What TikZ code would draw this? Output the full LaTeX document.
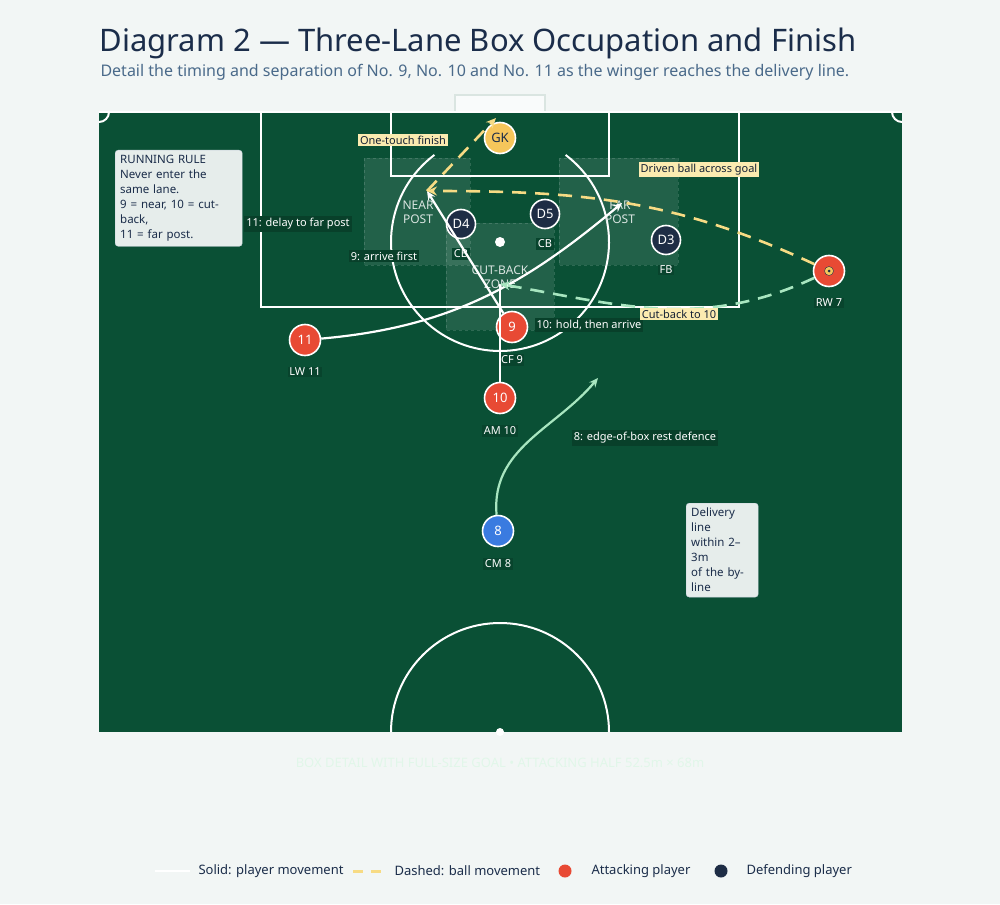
\documentclass[tikz,border=0pt]{standalone}
\usepackage{fontspec}
\setmainfont{Noto Sans}
\usetikzlibrary{arrows.meta}

\definecolor{bgcol}{HTML}{F2F6F5}
\definecolor{pitch}{HTML}{0A5035}
\definecolor{navy}{HTML}{1B2D4A}
\definecolor{slate}{HTML}{4A6A8A}
\definecolor{attack}{HTML}{E84A34}
\definecolor{defend}{HTML}{1E2D45}
\definecolor{keeper}{HTML}{F6C65B}
\definecolor{midblue}{HTML}{3A7BE0}
\definecolor{ballyel}{HTML}{F7DB84}
\definecolor{cutgreen}{HTML}{A8E6C0}
\definecolor{tagyel}{HTML}{FBEBB0}

\tikzset{
  player/.style={circle, draw=white, line width=1.6pt, minimum size=31pt, inner sep=0pt,
    font=\fontsize{13}{13}\selectfont\bfseries, text=white},
  att/.style={player, fill=attack},
  def/.style={player, fill=defend, minimum size=29pt},
  plabel/.style={font=\fontsize{11}{11}\selectfont\bfseries, text=white, fill=pitch!85!black, inner sep=1.5pt},
  note/.style={font=\fontsize{11}{11}\selectfont\bfseries, text=white, fill=pitch!80!black, inner sep=2pt},
  tag/.style={font=\fontsize{11}{11}\selectfont\bfseries, text=navy!70!black, fill=tagyel, inner sep=2pt},
  zone/.style={fill=white, fill opacity=0.1, draw=white, draw opacity=0.15, dashed},
  zonetxt/.style={font=\fontsize{12}{14}\selectfont\bfseries, text=white!85!pitch, align=center},
  run/.style={white, line width=2.2pt, -{Stealth[length=9pt,width=8pt]}},
  ball/.style={ballyel, line width=2.6pt, dash pattern=on 14pt off 9pt, -{Stealth[length=10pt,width=9pt]}},
  info/.style={draw=white!70!slate, fill=bgcol, fill opacity=0.95, text opacity=1, rounded corners=3pt,
    font=\fontsize{11.5}{15}\selectfont, text=navy, align=left, inner sep=5pt}
}

\begin{document}
\begin{tikzpicture}[x=1pt, y=-1pt]

% Background and titles
\fill[bgcol] (0,0) rectangle (1000,904);
\useasboundingbox (0,0) rectangle (1000,904);
\node[anchor=base west, text=navy, font=\fontsize{31}{31}\selectfont\bfseries] (title) at (96,52)
  {Diagram 2 — Three-Lane Box Occupation and Finish};
\node[anchor=base west, text=slate, font=\fontsize{16}{16}\selectfont] (subtitle) at (97,77)
  {Detail the timing and separation of No. 9, No. 10 and No. 11 as the winger reaches the delivery line.};

% Pitch
\fill[pitch] (99,112) rectangle (902,732);
\draw[white!85!pitch, line width=1.5pt, fill=white, fill opacity=0.6] (455,95) rectangle (545,112);
\draw[white, line width=2pt] (99,112) -- (902,112);
\draw[white, line width=2pt] (261,112) -- (261,307) -- (739,307) -- (739,112);
\draw[white, line width=2pt] (391,112) -- (391,176) -- (609,176) -- (609,112);
\draw[white, line width=2pt] (99,122) arc (90:0:10);
\draw[white, line width=2pt] (892,112) arc (180:90:10);
\draw[white, line width=2pt] (500,242) ++(233:109) arc (233:-53:109);
\draw[white, line width=2pt] (391,732) arc (180:360:109);
\fill[white] (500,242) circle (5);
\fill[white] (500,732) circle (4);

% Zones
\draw[zone] (364,158) rectangle (470,265);
\draw[zone] (559,158) rectangle (678,265);
\draw[zone] (446,223) rectangle (554,330);
\node[zonetxt] (nearlbl) at (418,212) {NEAR\\POST};
\node[zonetxt] (farlbl) at (620,212) {FAR\\POST};
\node[zonetxt] (cutlbl) at (500,277) {CUT-BACK\\ZONE};

% Target points
\coordinate (nearpost) at (427,191);
\coordinate (farpost) at (622,203);
\coordinate (cutback) at (500,284);
\coordinate (restdef) at (598,378);
\coordinate (goalmouth) at (496,118);

% Players
\node[player, fill=keeper, text=navy] (gk) at (500,138) {GK};
\node[def] (d4) at (461,224) {D4};
\node[def] (d5) at (545,214) {D5};
\node[def] (d3) at (666,240) {D3};
\node[att] (rw) at (829,271) {};
\fill[keeper] (rw) circle (4.5);
\draw[navy] (rw) circle (4.5);
\fill[navy] (rw) circle (1.5);
\node[att] (cf) at (512,327) {9};
\node[att] (am) at (500,398) {10};
\node[att] (lw) at (305,340) {11};
\node[player, fill=midblue] (cm) at (498,531) {8};

\node[plabel] at (461,254) {CB};
\node[plabel] at (545,244) {CB};
\node[plabel] at (666,270) {FB};
\node[plabel] at (829,303) {RW 7};
\node[plabel] at (512,360) {CF 9};
\node[plabel] at (500,431) {AM 10};
\node[plabel] at (305,372) {LW 11};
\node[plabel] at (498,564) {CM 8};

% Runs
\draw[white, line width=2.2pt] (am) -- (cutback);
\draw[run] (lw) to[out=5, in=220] (farpost);
\draw[run] (cf) -- (nearpost);
\draw[cutgreen, line width=2.2pt, -{Stealth[length=9pt,width=8pt]}] (cm) to[out=95, in=230] (restdef);

% Ball
\draw[ball] (rw) to[out=155, in=0] (nearpost);
\draw[cutgreen, line width=2.6pt, dash pattern=on 14pt off 9pt, -{Stealth[length=10pt,width=9pt]}]
  (rw) to[out=205, in=-10] (cutback);
\draw[ball] (nearpost) -- (goalmouth);

% Notes
\node[note] at (298,224) {11: delay to far post};
\node[note] at (384,256) {9: arrive first};
\node[note] at (589,325) {10: hold, then arrive};
\node[note] at (645,438) {8: edge-of-box rest defence};
\node[tag] at (403,140) {One-touch finish};
\node[tag] at (699,170) {Driven ball across goal};
\node[tag] at (679,314) {Cut-back to 10};

\node[info, anchor=north west, text width=117pt] (rule) at (115,150)
  {RUNNING RULE\\Never enter the same lane.\\9 = near, 10 = cut-back,\\11 = far post.};
\node[info, anchor=north west, text width=62pt] (delivery) at (686,503)
  {Delivery line\\within 2–3m\\of the byline};

\node[text=cutgreen!35!white, font=\fontsize{13}{13}\selectfont\bfseries] (caption) at (500,763)
  {BOX DETAIL WITH FULL-SIZE GOAL • ATTACKING HALF 52.5m × 68m};

% Legend
\draw[white, line width=2.5pt] (155,871) -- (190,871);
\node[anchor=west, text=navy, font=\fontsize{13}{13}\selectfont] at (195,871) {Solid: player movement};
\draw[ballyel, line width=3pt, dash pattern=on 10pt off 8pt] (353,871) -- (387,871);
\node[anchor=west, text=navy, font=\fontsize{13}{13}\selectfont] at (391,871) {Dashed: ball movement};
\fill[attack] (565,871) circle (6.5);
\node[anchor=west, text=navy, font=\fontsize{13}{13}\selectfont] at (588,871) {Attacking player};
\fill[defend] (721,871) circle (6.5);
\node[anchor=west, text=navy, font=\fontsize{13}{13}\selectfont] at (743,871) {Defending player};

\end{tikzpicture}
\end{document}
